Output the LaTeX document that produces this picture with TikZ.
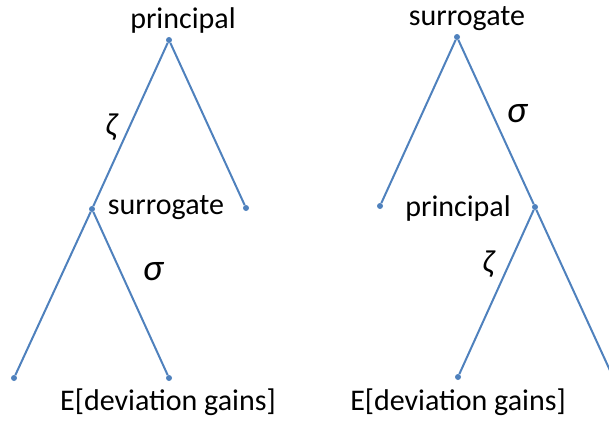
\documentclass[tikz,border=0pt]{standalone}
\usepackage{fontspec}
\setmainfont{Carlito}
\definecolor{lineblue}{RGB}{79,129,189}
\begin{document}
\begin{tikzpicture}[x=1pt,y=-1pt,font=\fontsize{30}{32}\selectfont,
  dot/.style={circle,fill=lineblue,inner sep=0pt,minimum size=6pt},
  branch/.style={lineblue,line width=2pt}]
\useasboundingbox (0,0) rectangle (609,420);
\clip (0,0) rectangle (609,420);
% left tree: principal moves first
\node[dot] (lroot) at (169,40) {};
\node[dot] (lsur) at (92,209) {};
\node[dot] (lout) at (246,208) {};
\node[dot] (lleafa) at (14,378) {};
\node[dot] (lleafb) at (169,378) {};
\draw[branch] (lleafa) -- (lsur) -- (lroot) -- (lout);
\draw[branch] (lsur) -- (lleafb);
\node (lptext) at (183,21) {principal};
\node (lstext) at (166,208) {surrogate};
\node[font=\fontsize{32}{34}\selectfont\itshape] (lzeta) at (111,127) {ζ};
\node[font=\fontsize{38}{40}\selectfont\itshape] (lsigma) at (153,272) {σ};
\node (lgain) at (168,402) {E[deviation gains]};
% right tree: surrogate moves first
\node[dot] (rroot) at (457,37) {};
\node[dot] (rout) at (380,206) {};
\node[dot] (rprin) at (535,207) {};
\node[dot] (rleafa) at (458,377) {};
\node[dot] (rleafb) at (613,377) {};
\draw[branch] (rout) -- (rroot) -- (rprin) -- (rleafb);
\draw[branch] (rprin) -- (rleafa);
\node (rstext) at (467,19) {surrogate};
\node (rptext) at (458,208) {principal};
\node[font=\fontsize{38}{40}\selectfont\itshape] (rsigma) at (517,114) {σ};
\node[font=\fontsize{32}{34}\selectfont\itshape] (rzeta) at (488,264) {ζ};
\node (rgain) at (458,402) {E[deviation gains]};
\end{tikzpicture}
\end{document}
